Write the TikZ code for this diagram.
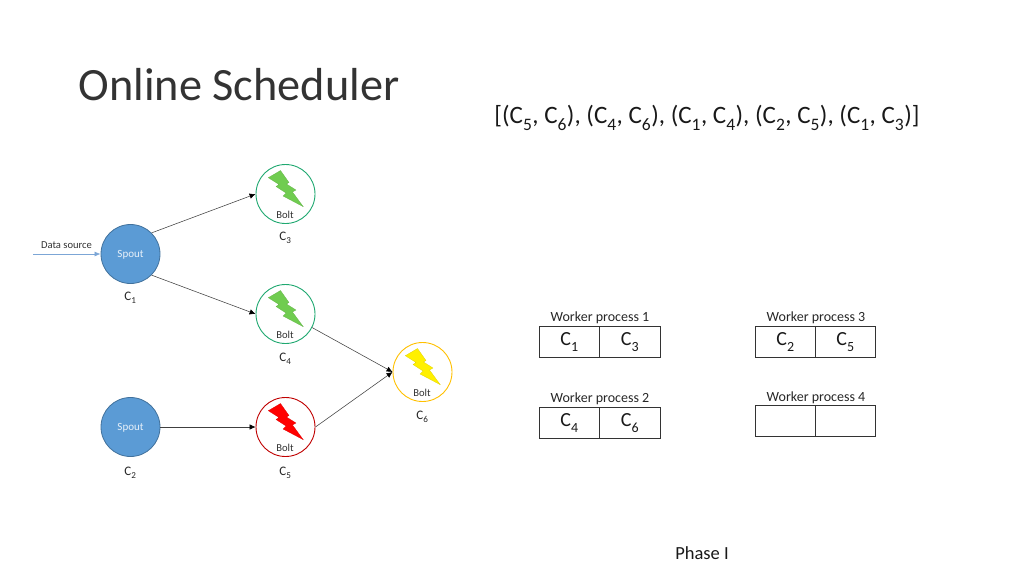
\documentclass[tikz,border=0pt]{standalone}
\usepackage{fontspec}
\setmainfont{Carlito}
\usetikzlibrary{arrows.meta}
\newcommand{\comp}[1]{C\textsubscript{\raisebox{-0.3ex}{#1}}}
\newcommand{\fsize}[1]{\fontsize{#1}{#1}\selectfont}
\tikzset{
  spout/.style={circle,draw=spoutedge,fill=spoutfill,line width=0.8pt,minimum size=59pt,inner sep=0pt,text=white!85!spoutfill,font=\fsize{11}},
  bolt/.style={circle,draw=#1,line width=0.9pt,fill=white,minimum size=59pt,inner sep=0pt},
  cname/.style={inner sep=0pt,text=black!85,font=\fsize{13}},
  small/.style={inner sep=0pt,text=black!80,font=\fsize{10.6}},
  worker/.style={inner sep=0pt,text=black!85,font=\fsize{14}},
  cell/.style={draw=black!80,line width=0.8pt,minimum width=60.5pt,minimum height=31pt,inner sep=0pt,text=black!90,font=\fsize{20}},
  link/.style={draw=black!75,line width=0.55pt,-{Latex[black,length=6pt,width=5.5pt]}},
  zap/.pic={\path[fill=#1,draw=#1!85!black,line width=0.2pt] (-16.7,-16.3) -- (-4.5,-23.5) -- (4,-11.5) -- (1.5,-10) -- (11,-4) -- (7.5,-2) -- (18.3,12.7) -- (-2,2) -- (1,-1) -- (-9,-7.5) -- (-6,-9.5) -- cycle;},
}
\definecolor{spoutfill}{HTML}{5B9BD5}
\definecolor{spoutedge}{HTML}{41719C}
\definecolor{boltgreen}{HTML}{1FA870}
\definecolor{boltred}{HTML}{C00000}
\definecolor{boltyellow}{HTML}{FFC000}
\definecolor{zapgreen}{HTML}{70CC50}
\definecolor{zapred}{HTML}{FF0000}
\definecolor{zapyellow}{HTML}{FFF000}
\definecolor{sourceline}{HTML}{7CA6D6}
\begin{document}
\begin{tikzpicture}[x=1pt,y=-1pt]
\useasboundingbox (0,0) rectangle (1024,576);

\node[inner sep=0pt,text=black!80,font=\fsize{46.3}] (title) at (239,85) {Online Scheduler};
\node[inner sep=0pt,text=black!90,font=\fsize{25}] (order) at (707,118) {[(\comp{5}, \comp{6}), (\comp{4}, \comp{6}), (\comp{1}, \comp{4}), (\comp{2}, \comp{5}), (\comp{1}, \comp{3})]};
\node[inner sep=0pt,text=black!90,font=\fsize{18.5}] (phase) at (702,553) {Phase I};

\node[spout] (spoutA) at (130.5,254) {\raisebox{-3.5pt}[0pt][0pt]{Spout}};
\node[spout] (spoutB) at (130.5,427) {\raisebox{-3.5pt}[0pt][0pt]{Spout}};
\node[bolt=boltgreen] (boltC) at (285.5,194) {};
\node[bolt=boltgreen] (boltD) at (285.5,314) {};
\node[bolt=boltred] (boltE) at (285.5,427) {};
\node[bolt=boltyellow] (boltF) at (422.5,372) {};

\pic at (285,194) {zap=zapgreen};
\pic at (285,314) {zap=zapgreen};
\pic at (285,427) {zap=zapred};
\pic at (422,372) {zap=zapyellow};

\node[small] (labelC) at (285,214.5) {Bolt};
\node[small] (labelD) at (285,334.5) {Bolt};
\node[small] (labelE) at (285,447.5) {Bolt};
\node[small] (labelF) at (422,392.5) {Bolt};

\node[cname] (nameA) at (130.5,297.5) {\comp{1}};
\node[cname] (nameB) at (130.5,472.5) {\comp{2}};
\node[cname] (nameC) at (285.5,237.5) {\comp{3}};
\node[cname] (nameD) at (285.5,358.5) {\comp{4}};
\node[cname] (nameE) at (285.5,472.5) {\comp{5}};
\node[cname] (nameF) at (422.5,416.5) {\comp{6}};

\node[small] (source) at (66.5,245) {Data source};
\coordinate (sourcestart) at (33,254);
\path[draw=sourceline,line width=0.7pt,-{Latex[sourceline,length=6pt,width=5pt]}] (sourcestart) -- (spoutA.west);

\path[link] (spoutA.45) -- (boltC.west);
\path[link] (spoutA.-45) -- (boltD.west);
\path[link] (spoutB.east) -- (boltE.west);
\path[link] (boltD.-27) -- (boltF.west);
\path[link] (boltE.east) -- (boltF.west);

\node[worker] (workerA) at (600,318) {Worker process 1};
\node[worker] (workerB) at (600,399) {Worker process 2};
\node[worker] (workerC) at (816,318) {Worker process 3};
\node[worker] (workerD) at (816,398) {Worker process 4};

\node[cell] (cellA) at (569.5,342) {\comp{1}};
\node[cell] (cellB) at (630,342) {\comp{3}};
\node[cell] (cellC) at (569.5,423) {\comp{4}};
\node[cell] (cellD) at (630,423) {\comp{6}};
\node[cell] (cellE) at (785.5,342) {\comp{2}};
\node[cell] (cellF) at (845.5,342) {\comp{5}};
\node[cell] (cellG) at (785.5,421) {};
\node[cell] (cellH) at (845.5,421) {};
\end{tikzpicture}
\end{document}
